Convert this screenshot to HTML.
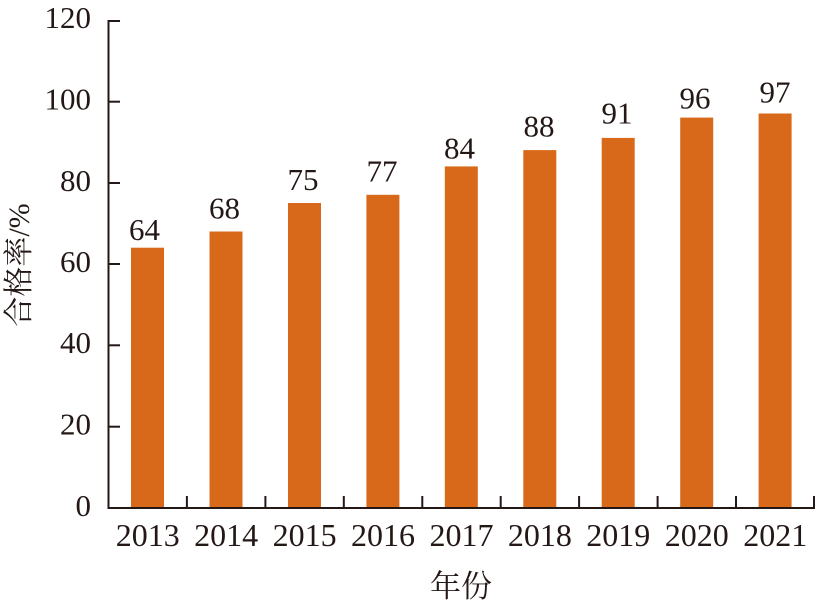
<!DOCTYPE html>
<html><head><meta charset="utf-8"><style>
html,body{margin:0;padding:0;background:#fff;}
svg{display:block;}
.n{font-family:"Liberation Serif","Times New Roman",Times,serif;fill:#231815;}
.c{font-family:"Noto Serif CJK SC","Liberation Serif",serif;fill:#231815;}
</style></head><body>
<svg width="820" height="608" viewBox="0 0 820 608" xmlns="http://www.w3.org/2000/svg">
<g fill="#D9691A">
<rect x="131" y="247.7" width="33" height="260.3"/>
<rect x="209.5" y="231.5" width="33" height="276.5"/>
<rect x="288" y="203" width="33" height="305"/>
<rect x="366.4" y="194.8" width="33" height="313.2"/>
<rect x="444.8" y="166.4" width="33" height="341.6"/>
<rect x="523.3" y="150.1" width="33" height="357.9"/>
<rect x="601.7" y="137.9" width="33" height="370.1"/>
<rect x="680.2" y="117.6" width="33" height="390.4"/>
<rect x="758.6" y="113.5" width="33" height="394.5"/>
</g>
<g stroke="#231815" stroke-width="2" fill="none">
<line x1="108.5" y1="20" x2="108.5" y2="509"/>
<line x1="107.5" y1="508" x2="815" y2="508"/>
<line x1="108.5" y1="21" x2="120" y2="21"/>
<line x1="108.5" y1="101.7" x2="120" y2="101.7"/>
<line x1="108.5" y1="183" x2="120" y2="183"/>
<line x1="108.5" y1="264" x2="120" y2="264"/>
<line x1="108.5" y1="345.3" x2="120" y2="345.3"/>
<line x1="108.5" y1="426.7" x2="120" y2="426.7"/>
<line x1="186.9" y1="496" x2="186.9" y2="508"/>
<line x1="265.4" y1="496" x2="265.4" y2="508"/>
<line x1="343.8" y1="496" x2="343.8" y2="508"/>
<line x1="422.3" y1="496" x2="422.3" y2="508"/>
<line x1="500.7" y1="496" x2="500.7" y2="508"/>
<line x1="579.1" y1="496" x2="579.1" y2="508"/>
<line x1="657.6" y1="496" x2="657.6" y2="508"/>
<line x1="736" y1="496" x2="736" y2="508"/>
<line x1="814" y1="496" x2="814" y2="508"/>
</g>
<g class="n" font-family="Liberation Serif, serif" font-size="31" text-anchor="end">
<text x="91" y="28">120</text>
<text x="91" y="109.5">100</text>
<text x="91" y="191">80</text>
<text x="91" y="272">60</text>
<text x="91" y="353">40</text>
<text x="91" y="434.5">20</text>
<text x="91" y="516">0</text>
</g>
<g class="n" font-family="Liberation Serif, serif" font-size="32" text-anchor="middle">
<text x="147.7" y="546">2013</text>
<text x="226.1" y="546">2014</text>
<text x="304.6" y="546">2015</text>
<text x="383" y="546">2016</text>
<text x="461.5" y="546">2017</text>
<text x="539.9" y="546">2018</text>
<text x="618.3" y="546">2019</text>
<text x="696.8" y="546">2020</text>
<text x="775.2" y="546">2021</text>
</g>
<g class="n" font-family="Liberation Serif, serif" font-size="31" text-anchor="middle">
<text x="144.5" y="240">64</text>
<text x="224.5" y="218.3">68</text>
<text x="303" y="190">75</text>
<text x="382" y="181.7">77</text>
<text x="459.5" y="158.3">84</text>
<text x="539" y="136.7">88</text>
<text x="617" y="123.3">91</text>
<text x="695" y="108.3">96</text>
<text x="775" y="102.7">97</text>
</g>
<text class="c" x="461" y="597" font-size="31" text-anchor="middle">年份</text>
<text class="c" transform="translate(29,265) rotate(-90)" font-size="30" text-anchor="middle">合格率<tspan class="n" font-family="Liberation Serif, serif">/%</tspan></text>
</svg>
</body></html>
